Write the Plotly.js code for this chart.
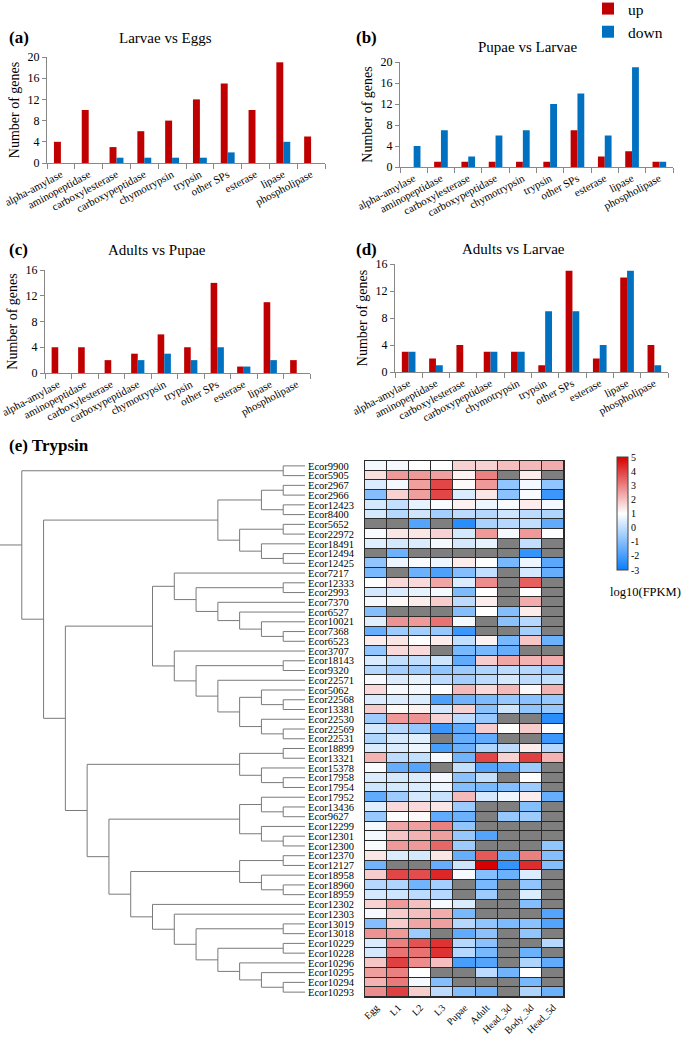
<!DOCTYPE html>
<html><head><meta charset="utf-8">
<script src="https://cdn.plot.ly/plotly-3.0.1.min.js"></script>
<style>body{margin:0;background:#fff}#chart{width:685px;height:1037px}</style>
</head><body><div id="chart"></div>
<script>
// ---------- DATA ----------
const categories = ['alpha-amylase','aminopeptidase','carboxylesterase','carboxypeptidase','chymotrypsin','trypsin','other SPs','esterase','lipase','phospholipase'];
const upA   = [4,10,3,6,8,12,15,10,19,5];
const downA = [0,0,1,1,1,1,2,0,4,0];
const upB   = [0,1,1,1,1,1,7,2,3,1];
const downB = [4,7,2,6,7,12,14,6,19,1];
const upC   = [4,4,2,3,6,4,14,1,11,2];
const downC = [0,0,0,2,3,2,4,1,2,0];
const upD   = [3,2,4,3,3,1,15,2,14,4];
const downD = [3,1,0,3,3,9,9,4,15,1];
const panelTitles = ['Larvae vs Eggs','Pupae vs Larvae','Adults vs Pupae','Adults vs Larvae'];

const stages = ['Egg','L1','L2','L3','Pupae','Adult','Head_3d','Body_3d','Head_5d'];
const genes = ['Ecor9900','Ecor5905','Ecor2967','Ecor2966','Ecor12423','Ecor8400','Ecor5652','Ecor22972','Ecor18491','Ecor12494',
 'Ecor12425','Ecor7217','Ecor12333','Ecor2993','Ecor7370','Ecor6527','Ecor10021','Ecor7368','Ecor6523','Ecor3707',
 'Ecor18143','Ecor9320','Ecor22571','Ecor5062','Ecor22568','Ecor13381','Ecor22530','Ecor22569','Ecor22531','Ecor18899',
 'Ecor13321','Ecor15378','Ecor17958','Ecor17954','Ecor17952','Ecor13436','Ecor9627','Ecor12299','Ecor12301','Ecor12300',
 'Ecor12370','Ecor12127','Ecor18958','Ecor18960','Ecor18959','Ecor12302','Ecor12303','Ecor13019','Ecor13018','Ecor10229',
 'Ecor10228','Ecor10296','Ecor10295','Ecor10294','Ecor10293'];
const N = null;
const fpkm = [
 [0.8,0.8,1.0,1.0,1.7,1.7,2.0,2.1,2.3],
 [1.5,2.6,2.6,2.5,1.2,3.0,N,1.3,N],
 [0.4,0.8,2.5,3.9,1.1,2.6,-0.8,0.8,-0.8],
 [-1.0,1.7,2.5,3.9,0.4,1.4,-0.9,0.9,-2.2],
 [0.3,0.0,0.6,0.9,1.2,0.7,0.9,1.3,0.8],
 [0.3,-0.2,0.2,-0.5,-0.1,-0.2,0.2,-0.1,-0.3],
 [N,N,-1.8,N,-2.5,-0.4,-0.2,0.0,-1.6],
 [0.9,1.4,1.4,1.7,0.3,2.6,0.8,2.6,0.95],
 [0.5,0.3,0.4,0.8,0.3,0.6,N,0.0,N],
 [N,-1.4,N,N,N,N,N,-2.3,N],
 [-0.8,0.7,0.9,0.7,1.3,1.0,-1.2,0.7,-1.7],
 [-1.2,N,-1.4,-1.9,-1.0,0.0,N,0.3,-1.5],
 [1.0,1.6,1.6,2.4,0.4,2.8,N,3.5,N],
 [0.3,0.4,0.6,0.8,-1.1,1.0,N,1.0,N],
 [0.85,1.1,1.3,1.8,-0.1,1.3,N,2.3,N],
 [-1.0,N,N,N,-1.0,1.0,-1.0,1.3,N],
 [0.5,2.7,2.6,3.2,0.8,N,-0.9,-0.2,N],
 [-1.5,-0.6,-0.5,-0.7,-2.2,N,N,-0.5,N],
 [1.3,1.4,1.0,1.3,0.0,1.2,-1.2,1.9,-1.4],
 [-0.8,1.6,1.6,N,-1.2,-1.2,-1.5,N,N],
 [0.4,0.0,0.0,0.2,-1.6,1.8,2.4,2.2,2.3],
 [-0.2,-0.5,-0.6,-0.8,-0.6,-0.3,-0.1,-0.2,-0.7],
 [0.85,0.4,0.6,-0.1,-0.5,-0.1,0.3,-0.1,0.0],
 [1.6,0.85,0.8,1.0,2.1,1.6,2.1,1.1,2.2],
 [0.4,0.4,0.4,-1.9,-1.3,-1.1,-0.7,-0.9,-0.7],
 [1.8,1.1,1.2,0.3,1.7,-0.9,0.2,-0.8,-0.7],
 [-0.6,2.6,2.7,1.7,-0.1,-0.7,N,N,-2.5],
 [0.3,-0.2,-0.7,-2.2,-1.6,1.8,1.0,1.8,0.95],
 [-0.3,0.3,0.5,N,-1.5,-1.6,N,N,-2.2],
 [0.4,0.4,0.7,-2.0,-1.4,-0.3,-0.1,1.3,-0.2],
 [2.2,-0.1,0.0,0.8,-1.3,3.9,1.7,4.0,2.2],
 [0.9,-1.5,-1.8,N,0.0,-1.8,-1.6,-0.6,N],
 [0.4,0.3,0.4,0.8,-0.9,0.0,N,1.0,N],
 [0.2,0.3,0.4,0.7,-1.0,-1.2,-1.0,-0.6,N],
 [-1.6,-0.6,0.3,0.1,2.1,0.3,0.7,1.3,-1.5],
 [0.5,1.6,1.6,1.4,-0.6,N,N,-1.0,N],
 [-0.7,0.95,1.1,-1.6,-1.4,N,-0.7,-0.6,N],
 [0.8,2.4,2.5,3.0,-0.8,N,N,N,N],
 [0.8,1.9,2.2,2.5,-0.7,-1.8,N,N,N],
 [0.9,2.6,2.6,3.4,-0.6,N,N,N,-0.8],
 [1.4,0.4,0.3,1.4,-1.5,3.6,-1.5,3.0,-1.0],
 [-1.3,N,N,-1.5,0.2,5.0,-2.3,4.3,-1.0],
 [1.8,3.9,3.8,4.4,0.85,-1.0,-1.4,0.4,N],
 [-0.2,-0.3,-1.3,-0.5,N,-1.2,N,-0.8,N],
 [0.3,0.2,-0.1,-0.2,N,-0.6,N,0.4,N],
 [1.7,2.6,2.0,0.85,0.4,N,N,-1.0,N],
 [0.85,1.8,2.0,2.3,-1.2,N,N,N,-1.8],
 [-1.0,1.8,2.4,2.5,-0.2,-0.8,-1.1,-0.9,-1.8],
 [2.7,2.6,-0.6,N,-1.6,-0.9,N,-0.8,N],
 [0.4,3.0,3.7,4.2,-0.2,-0.9,N,N,-0.2],
 [0.3,3.2,3.2,4.2,-0.2,-1.2,N,-1.4,N],
 [1.9,4.0,2.8,2.0,-2.0,-1.8,N,-0.3,-1.6],
 [2.5,3.0,1.0,N,N,-0.1,-1.3,1.0,N],
 [2.2,3.1,0.8,-1.0,N,N,N,-1.2,N],
 [2.8,4.0,1.8,-0.1,-1.0,-1.3,N,-0.3,-1.4]
];
const cbTicks = [-3,-2,-1,0,1,2,3,4,5];
const cbTickText = ['-3','-2','-1','0','1','2','3','4','5'];
// cluster tree (leaf = row index in genes)
const tree = [[0,1],
  [ [ [[2,3],[4,5]], [[6,7],[8,[9,10]]] ],
    [ [ [11,[[12,13],[14,[15,[16,[17,18]]]]]],
        [19,[[20,21],[22,[[23,[24,25]],[26,[27,28]]]]]] ],
      [ [[29,30],[31,[32,33]]],
        [ [[34,[35,36]],[37,[38,39]]],
          [ [[40,41],[42,[43,44]]],
            [45,[46,[[47,48],[[49,50],[51,[52,[53,54]]]]]]] ] ] ] ] ] ];

// ---------- LAYOUT HELPERS ----------
const W = 685, H = 1037;
const fx = p => p / W, fy = p => 1 - p / H;
const FONT = 'Liberation Serif';
const RED = '#C00000', BLUE = '#0070C0';

const traces = [];
const layout = {
  width: W, height: H, margin: {l:0,r:0,t:0,b:0,autoexpand:false},
  paper_bgcolor: '#fff', plot_bgcolor: 'rgba(0,0,0,0)',
  font: {family: FONT, color: '#000', size: 12},
  barmode: 'group', bargap: 0.5, bargroupgap: 0,
  showlegend: true,
  legend: {x: fx(588), y: fy(-8), xanchor: 'left', yanchor: 'top', font: {family: FONT, size: 15.5},
           bgcolor: 'rgba(0,0,0,0)', tracegroupgap: 0, itemwidth: 30},
  annotations: [], shapes: []
};

const panels = [
  {up: upA, down: downA, x: [47,325], y: [57,163], max: 20, lab: '(a)', labPos: [7,38], tPos: [165,38]},
  {up: upB, down: downB, x: [400,673], y: [62,167], max: 20, lab: '(b)', labPos: [354,37], tPos: [527,47]},
  {up: upC, down: downC, x: [45,310], y: [270,373], max: 16, lab: '(c)', labPos: [7,250], tPos: [157,250]},
  {up: upD, down: downD, x: [395,668], y: [264,372], max: 16, lab: '(d)', labPos: [354,249], tPos: [513,249]}
];
panels.forEach((p, i) => {
  const n = i + 1, xa = 'x' + n, ya = 'y' + n;
  traces.push({type: 'bar', name: 'up', x: categories, y: p.up, xaxis: xa, yaxis: ya,
    marker: {color: RED, line: {width: 0}}, showlegend: i === 0, legendgroup: 'up', hoverinfo: 'y'});
  traces.push({type: 'bar', name: 'down', x: categories, y: p.down, xaxis: xa, yaxis: ya,
    marker: {color: BLUE, line: {width: 0}}, showlegend: i === 0, legendgroup: 'down', hoverinfo: 'y'});
  layout['xaxis' + n] = {domain: [fx(p.x[0]), fx(p.x[1])], anchor: ya, type: 'category',
    showline: true, linecolor: '#888', linewidth: 1, ticks: 'outside', tickson: 'boundaries',
    ticklen: 5, tickcolor: '#888', tickangle: -28, tickfont: {family: FONT, size: 11},
    showgrid: false, zeroline: false, fixedrange: true};
  layout['yaxis' + n] = {domain: [fy(p.y[1]), fy(p.y[0])], anchor: xa, range: [0, p.max], dtick: 4,
    showline: true, linecolor: '#888', linewidth: 1, ticks: 'outside', ticklen: 4, tickcolor: '#888',
    tickfont: {family: FONT, size: 12}, showgrid: false, zeroline: false,
    title: {text: 'Number of genes', font: {family: FONT, size: 14}, standoff: 4}};
  layout.annotations.push({xref: 'paper', yref: 'paper', x: fx(p.labPos[0]), y: fy(p.labPos[1]),
    xanchor: 'left', yanchor: 'middle', text: '<b>' + p.lab + '</b>', showarrow: false,
    font: {family: FONT, size: 17}});
  layout.annotations.push({xref: 'paper', yref: 'paper', x: fx(p.tPos[0]), y: fy(p.tPos[1]),
    xanchor: 'center', yanchor: 'middle', text: panelTitles[i], showarrow: false,
    font: {family: FONT, size: 15}});
});

// ---------- DENDROGRAM ----------
const dx = [], dy = [];
function walk(node) {
  if (typeof node === 'number') return {y: node, h: 0};
  const a = walk(node[0]), b = walk(node[1]);
  const h = 1 + Math.max(a.h, b.h), y = (a.y + b.y) / 2;
  dx.push(h, h, null); dy.push(a.y, b.y, null);
  [a, b].forEach(c => { dx.push(h, c.h, null); dy.push(c.y, c.y, null); });
  return {y, h};
}
const root = walk(tree);
dx.push(root.h, root.h + 1.0, null); dy.push(root.y, root.y, null);
traces.push({type: 'scatter', mode: 'lines', x: dx, y: dy, xaxis: 'x5', yaxis: 'y5',
  line: {color: '#7a7a7a', width: 1}, showlegend: false, hoverinfo: 'skip'});
const rowTop = 461, rowBot = 997;
layout.xaxis5 = {domain: [0, fx(305)], anchor: 'y5', range: [root.h + 1.0, 0], visible: false, fixedrange: true};
layout.yaxis5 = {domain: [fy(rowBot), fy(rowTop)], anchor: 'x5', range: [genes.length - 0.5, -0.5],
  side: 'right', showline: false, showgrid: false, zeroline: false, ticks: '',
  tickvals: genes.map((g, i) => i), ticktext: genes, ticklabelstandoff: 2,
  tickfont: {family: FONT, size: 10.5}, fixedrange: true};

// ---------- HEATMAP ----------
const rows = genes.map((g, i) => i);
const cols = stages.map((s, i) => i);
traces.push({type: 'heatmap', x: cols, y: rows, z: fpkm.map(r => r.map(() => 0)), xaxis: 'x6', yaxis: 'y6',
  colorscale: [[0, '#2a2a2a'], [1, '#2a2a2a']], showscale: false, hoverinfo: 'skip'});
traces.push({type: 'heatmap', x: cols, y: rows, z: fpkm.map(r => r.map(v => v === null ? 0 : null)), xaxis: 'x6', yaxis: 'y6',
  colorscale: [[0, '#7f7f7f'], [1, '#7f7f7f']], showscale: false, xgap: 1, ygap: 1, hoverinfo: 'skip'});
traces.push({type: 'heatmap', x: cols, y: rows, z: fpkm, xaxis: 'x6', yaxis: 'y6', zmin: -3, zmax: 5,
  xgap: 1, ygap: 1, hoverongaps: false,
  colorscale: [[0, 'rgb(10,125,250)'], [0.5, 'rgb(255,255,255)'], [1, 'rgb(215,0,0)']],
  colorbar: {x: fx(617), xanchor: 'left', y: fy(457), yanchor: 'top', xpad: 0, ypad: 0,
    len: 113, lenmode: 'pixels', thickness: 11, thicknessmode: 'pixels',
    tickvals: cbTicks, ticktext: cbTickText, ticks: '', tickfont: {family: FONT, size: 10},
    outlinewidth: 1, outlinecolor: '#444', ticklabelpad: 3}});
layout.xaxis6 = {domain: [fx(365), fx(564)], anchor: 'y6', range: [-0.5, stages.length - 0.5],
  tickvals: cols, ticktext: stages, tickangle: -45, ticks: '', tickfont: {family: FONT, size: 10},
  showline: true, mirror: true, linecolor: '#2a2a2a', linewidth: 1, showgrid: false, zeroline: false, fixedrange: true};
layout.yaxis6 = {domain: [fy(rowBot), fy(rowTop)], anchor: 'x6', range: [genes.length - 0.5, -0.5],
  showticklabels: false, ticks: '', showline: true, mirror: true, linecolor: '#2a2a2a', linewidth: 1,
  showgrid: false, zeroline: false, fixedrange: true};

layout.annotations.push({xref: 'paper', yref: 'paper', x: fx(7), y: fy(446), xanchor: 'left', yanchor: 'middle',
  text: '<b>(e) Trypsin</b>', showarrow: false, font: {family: FONT, size: 17}});
layout.annotations.push({xref: 'paper', yref: 'paper', x: fx(645), y: fy(592), xanchor: 'center', yanchor: 'middle',
  text: 'log10(FPKM)', showarrow: false, font: {family: FONT, size: 12.5}});

Plotly.newPlot('chart', traces, layout, {staticPlot: true, displayModeBar: false});
</script></body></html>
